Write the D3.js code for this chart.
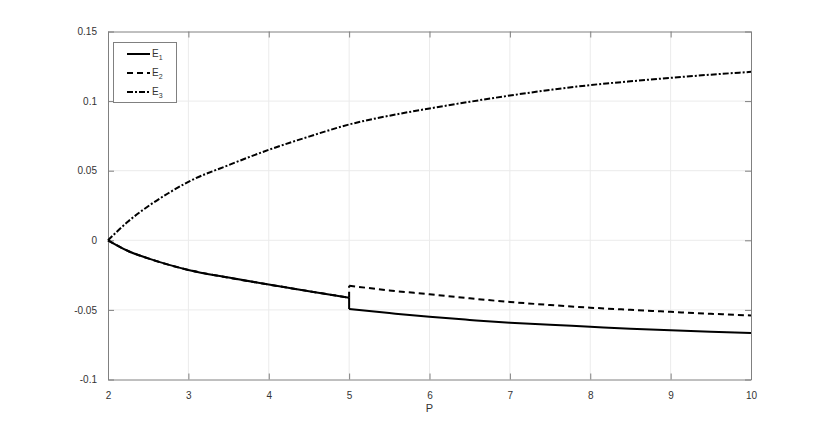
<!DOCTYPE html>
<html>
<head>
<meta charset="utf-8">
<script src="https://cdn.jsdelivr.net/npm/d3@7"></script>
<style>
  body { margin: 0; background: #fff; }
  text { font-family: "Liberation Sans", Arial, sans-serif; }
</style>
</head>
<body>
<svg id="chart" width="830" height="426"></svg>
<script>
// values
const pBefore = [2, 2.25, 2.5, 2.75, 3, 3.5, 4, 4.5, 5];
const e1Before = [0, -0.0077, -0.013, -0.0175, -0.0213, -0.0268, -0.0318, -0.0366, -0.0412];
const pAfter = [5, 5.5, 6, 6.5, 7, 7.5, 8, 8.5, 9, 9.5, 10];
const e1After = [-0.0494, -0.0523, -0.055, -0.0572, -0.0592, -0.0607, -0.0621, -0.0635, -0.0647, -0.0657, -0.0666];
const e2After = [-0.0326, -0.036, -0.0388, -0.0417, -0.0443, -0.0465, -0.0484, -0.0499, -0.0514, -0.0528, -0.054];
const pAll = [2, 2.25, 2.5, 2.75, 3, 3.5, 4, 4.5, 5, 5.5, 6, 6.5, 7, 7.5, 8, 8.5, 9, 9.5, 10];
const e3 = [0, 0.0135, 0.0245, 0.0338, 0.042, 0.054, 0.065, 0.0745, 0.0832, 0.0895, 0.0947, 0.0995, 0.104, 0.108, 0.1115, 0.1142, 0.1167, 0.119, 0.121];
const xTicks = [2, 3, 4, 5, 6, 7, 8, 9, 10];
const yTicks = [-0.1, -0.05, 0, 0.05, 0.1, 0.15];
const legendNames = ["1", "2", "3"];

const svg = d3.select("#chart");
const mLeft = 108, mRight = 751, mTop = 31.5, mBottom = 379.5;
const x = d3.scaleLinear().domain([2, 10]).range([mLeft, mRight]);
const y = d3.scaleLinear().domain([-0.1, 0.15]).range([mBottom, mTop]);
const axisColor = "#808080";
const fmt = d => String(+d.toFixed(2));

// grid
svg.append("g").selectAll("line").data(xTicks.slice(1, -1)).enter().append("line")
  .attr("x1", d => x(d)).attr("x2", d => x(d)).attr("y1", mTop).attr("y2", mBottom)
  .attr("stroke", "#ebebeb").attr("stroke-width", 1);
svg.append("g").selectAll("line").data(yTicks.slice(1, -1)).enter().append("line")
  .attr("y1", d => y(d)).attr("y2", d => y(d)).attr("x1", mLeft).attr("x2", mRight)
  .attr("stroke", "#ebebeb").attr("stroke-width", 1);

// axes (box, inward ticks)
const axB = svg.append("g").attr("transform", `translate(0,${mBottom})`)
  .call(d3.axisBottom(x).tickValues(xTicks).tickSizeInner(-6).tickSizeOuter(0).tickPadding(12).tickFormat(fmt));
const axT = svg.append("g").attr("transform", `translate(0,${mTop})`)
  .call(d3.axisTop(x).tickValues(xTicks).tickSizeInner(-6).tickSizeOuter(0).tickFormat(""));
const axL = svg.append("g").attr("transform", `translate(${mLeft},0)`)
  .call(d3.axisLeft(y).tickValues(yTicks).tickSizeInner(-6).tickSizeOuter(0).tickPadding(11).tickFormat(fmt));
const axR = svg.append("g").attr("transform", `translate(${mRight},0)`)
  .call(d3.axisRight(y).tickValues(yTicks).tickSizeInner(-6).tickSizeOuter(0).tickFormat(""));
[axB, axT, axL, axR].forEach(g => {
  g.select(".domain").attr("stroke", axisColor);
  g.selectAll(".tick line").attr("stroke", axisColor);
  g.selectAll(".tick text").attr("fill", "#333").style("font-size", "10px")
    .style("font-family", "'Liberation Sans', Arial, sans-serif");
});

svg.append("text").attr("x", (mLeft + mRight) / 2).attr("y", 412)
  .attr("text-anchor", "middle").attr("fill", "#333").style("font-size", "11px").text("P");

// series: smooth pieces either side of the jump at P = 5, joined by a vertical step
const line = d3.line().x(d => x(d[0])).y(d => y(d[1])).curve(d3.curveMonotoneX);
const zip = (ps, vs) => ps.map((p, i) => [p, vs[i]]);
const last = e1Before.length - 1;
const dashes = [null, "6,4", "6,2,2,2"];

function drawSeries(pieces, dash) {
  pieces.forEach(pts => {
    svg.append("path").datum(pts).attr("d", line).attr("fill", "none")
      .attr("stroke", "#000").attr("stroke-width", 2).attr("stroke-dasharray", dash);
  });
}
// dashed first so the solid sits over the shared part
drawSeries([zip(pBefore, e1Before),
            [[5, e1Before[last]], [5, e2After[0]]],
            zip(pAfter, e2After)], dashes[1]);
drawSeries([zip(pBefore, e1Before),
            [[5, e1Before[last]], [5, e1After[0]]],
            zip(pAfter, e1After)], dashes[0]);
drawSeries([zip(pAll, e3)], dashes[2]);

// legend
const lg = svg.append("g");
lg.append("rect").attr("x", 113.5).attr("y", 42.5).attr("width", 63).attr("height", 60)
  .attr("fill", "#fff").attr("stroke", axisColor).attr("stroke-width", 1);
legendNames.forEach((n, i) => {
  const ly = 54 + i * 19;
  lg.append("line").attr("x1", 127).attr("x2", 150).attr("y1", ly).attr("y2", ly)
    .attr("stroke", "#000").attr("stroke-width", 2).attr("stroke-dasharray", dashes[i]);
  const t = lg.append("text").attr("x", 152).attr("y", ly + 3).attr("fill", "#333").style("font-size", "10px");
  t.append("tspan").text("E");
  t.append("tspan").attr("dy", 3).style("font-size", "7px").text(n);
});
</script>
</body>
</html>
